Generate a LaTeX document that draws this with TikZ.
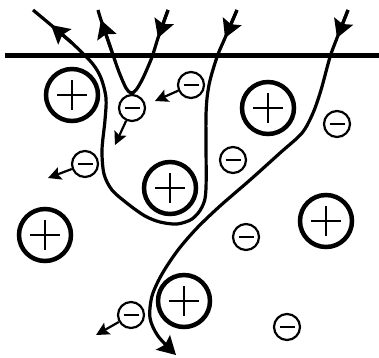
\documentclass[tikz,border=0pt]{standalone}
\usepackage{tikz}
\usetikzlibrary{arrows.meta}
\tikzset{
    cation/.style={circle,draw,line width=4.5pt,minimum size=52pt,inner sep=0pt,
        path picture={\draw[line width=2pt]
            ([xshift=-15pt]path picture bounding box.center) -- ([xshift=15pt]path picture bounding box.center)
            ([yshift=-15pt]path picture bounding box.center) -- ([yshift=15pt]path picture bounding box.center);}},
    anion/.style={circle,draw,line width=2.2pt,minimum size=26pt,inner sep=0pt,
        path picture={\draw[line width=2.6pt]
            ([xshift=-7.5pt]path picture bounding box.center) -- ([xshift=7.5pt]path picture bounding box.center);}},
    track/.style={line width=3.2pt},
    bigtip/.style={-{Stealth[length=18pt,width=20pt,inset=3pt]}},
    eject/.style={line width=2.2pt,-{Stealth[length=13pt,width=13pt,inset=2.5pt]}},
    surface/.style={line width=5pt}
}
\begin{document}
\begin{tikzpicture}[x=1pt,y=-1pt]
\useasboundingbox (0,0) rectangle (379,357);
\draw[surface] (5,55) -- (379,55);
% positive ions
\node[cation] (p1) at (72,95) {};
\node[cation] (p2) at (268,108) {};
\node[cation] (p3) at (45,235) {};
\node[cation] (p4) at (170,188) {};
\node[cation] (p5) at (326,221) {};
\node[cation] (p6) at (184,301) {};
% negative ions
\node[anion] (m1) at (132,108) {};
\node[anion] (m2) at (191,85) {};
\node[anion] (m3) at (85,164) {};
\node[anion] (m4) at (233,160) {};
\node[anion] (m5) at (337,124) {};
\node[anion] (m6) at (246,237) {};
\node[anion] (m7) at (287,327) {};
\node[anion] (m8) at (131,315) {};
% ejected electrons
\coordinate (e1) at (115,145);
\coordinate (e2) at (155,101);
\coordinate (e3) at (48,178);
\coordinate (e4) at (96,335);
\draw[eject] (m1) -- (e1);
\draw[eject] (m2) -- (e2);
\draw[eject] (m3) -- (e3);
\draw[eject] (m8) -- (e4);
% tracks
\draw[track] plot[smooth] coordinates {(168,10) (158,38) (152,57) (143,78) (136,90) (131,93) (126,88) (119,72) (112,52) (101,20) (98,10)};
\draw[track,bigtip] (168,10) -- (158,38);
\draw[track,bigtip] (112,52) -- (101,20);
\draw[track] plot[smooth] coordinates {(237,10) (225,38) (217,57) (209,85) (206,115) (206,188) (202,207) (192,219) (177,224) (160,222) (145,216) (128,204) (112,190) (104,174) (102,150) (105,120) (106,98) (101,78) (92,63) (72,43) (51,25) (33,10)};
\draw[track,bigtip] (237,10) -- (225,38);
\draw[track,bigtip] (72,43) -- (51,25);
\draw[track,bigtip] plot[smooth] coordinates {(348,10) (337,38) (330,57) (321,90) (313,113) (302,133) (280,153) (250,180) (220,206) (197,228) (178,250) (162,274) (152,296) (150,318) (158,336) (176,355)};
\draw[track,bigtip] (348,10) -- (337,38);
\end{tikzpicture}
\end{document}
